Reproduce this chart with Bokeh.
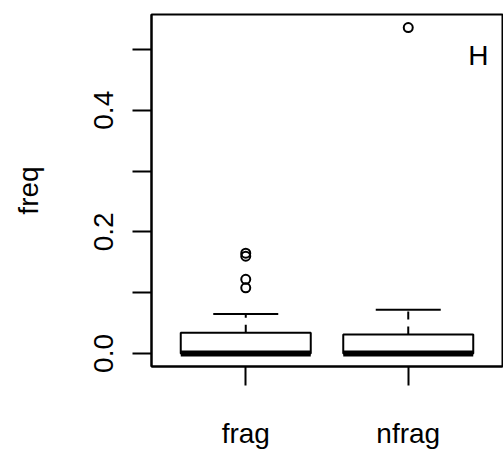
from bokeh.plotting import figure
from bokeh.models import FixedTicker, Label, ColumnDataSource
from bokeh.embed import file_html
from bokeh.resources import INLINE

# ---- data ----
groups = ["frag", "nfrag"]
q1 = [0.0, 0.0]
median = [0.0, 0.0]
q3 = [0.034, 0.031]
upper_whisker = [0.065, 0.072]
out_frag = [0.108, 0.122, 0.160, 0.165]
out_nfrag = [0.536]
y_ticks = [0.0, 0.1, 0.2, 0.3, 0.4, 0.5]
y_tick_labels = ["0.0", "", "0.2", "", "0.4", ""]

FONT = "Liberation Sans"
FS = "28px"

xpos = [i + 1 for i in range(len(groups))]
ymax = max(out_frag + out_nfrag)
pad = 0.04 * ymax

p = figure(width=503, height=452, x_range=(0.42, 2.58), y_range=(-pad, ymax + pad),
           output_backend="svg", toolbar_location=None,
           min_border_left=151, min_border_right=1, min_border_top=14, min_border_bottom=86)
p.grid.visible = False
p.outline_line_color = "black"
p.outline_line_width = 2
p.background_fill_color = "white"
p.border_fill_color = "white"

# axes
p.xaxis.ticker = FixedTicker(ticks=xpos)
p.xaxis.major_label_overrides = {x: g for x, g in zip(xpos, groups)}
p.yaxis.ticker = FixedTicker(ticks=y_ticks)
p.yaxis.major_label_overrides = {t: l for t, l in zip(y_ticks, y_tick_labels)}
p.yaxis.major_label_orientation = "vertical"
p.yaxis.axis_label = "freq"
for ax in (p.xaxis[0], p.yaxis[0]):
    ax.major_tick_out = 19
    ax.major_tick_in = 0
    ax.minor_tick_line_color = None
    ax.major_tick_line_width = 2
    ax.major_tick_line_color = "black"
    ax.axis_line_width = 2
    ax.axis_line_color = "black"
    ax.major_label_text_font = FONT
    ax.major_label_text_font_size = FS
    ax.major_label_text_color = "black"
    ax.axis_label_text_font = FONT
    ax.axis_label_text_font_size = FS
    ax.axis_label_text_font_style = "normal"
    ax.axis_label_text_color = "black"
p.xaxis.major_label_standoff = 32
p.yaxis.major_label_standoff = 19
p.yaxis.axis_label_standoff = 48

bw = 0.8
src = ColumnDataSource(dict(x=xpos, q1=q1, q3=q3, med=median, up=upper_whisker,
                            left=[x - bw / 2 for x in xpos], right=[x + bw / 2 for x in xpos],
                            cl=[x - bw / 4 for x in xpos], cr=[x + bw / 4 for x in xpos]))

# whiskers (dashed)
p.segment(x0="x", y0="q3", x1="x", y1="up", source=src, line_color="black",
          line_width=2, line_dash="8 7")
# caps
p.segment(x0="cl", y0="up", x1="cr", y1="up", source=src, line_color="black", line_width=2)
# boxes
p.quad(left="left", right="right", bottom="q1", top="q3", source=src,
       fill_color="white", line_color="black", line_width=2)
# medians
p.segment(x0="left", y0="med", x1="right", y1="med", source=src, line_color="black",
          line_width=6)

# outliers
ox = [xpos[0]] * len(out_frag) + [xpos[1]] * len(out_nfrag)
oy = out_frag + out_nfrag
p.scatter(ox, oy, marker="circle", size=9, fill_color=None, line_color="black", line_width=2)

p.add_layout(Label(x=2.432, y=0.49, text="H", text_font=FONT, text_font_size=FS,
                   text_align="center", text_baseline="middle", text_color="black"))

open("out.html", "w").write(file_html(p, INLINE))
